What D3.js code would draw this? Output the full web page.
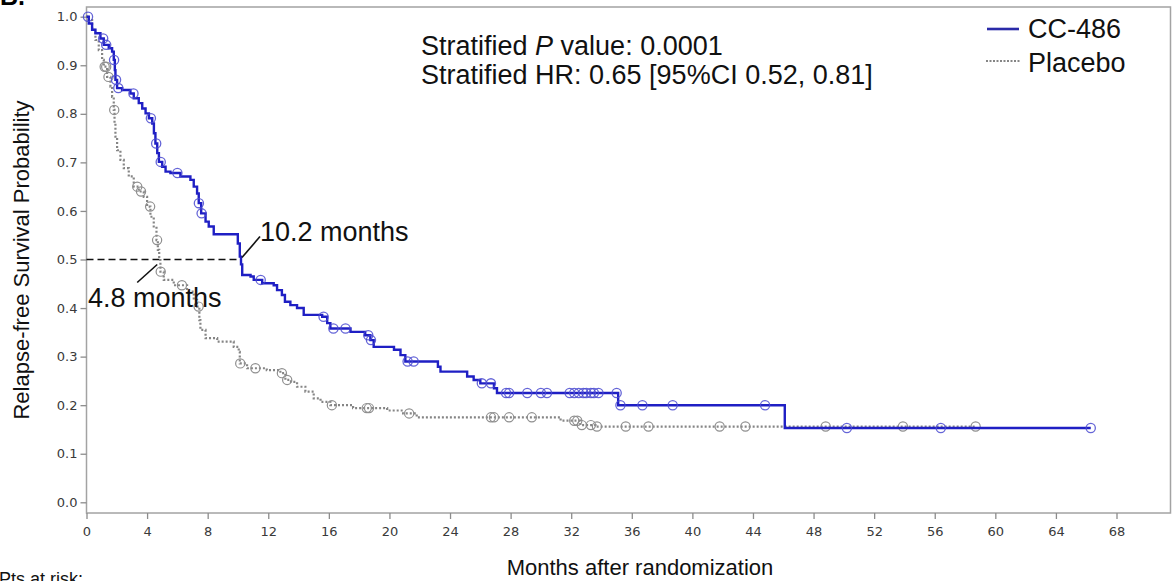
<!DOCTYPE html>
<html><head><meta charset="utf-8">
<script src="https://cdn.jsdelivr.net/npm/d3@7"></script>
<style>body{margin:0;background:#fff}svg{display:block}</style>
</head><body>
<svg id="chart" width="1172" height="581"></svg>
<script>
// ---------- data ----------
const xTickValues = [0,4,8,12,16,20,24,28,32,36,40,44,48,52,56,60,64,68];
const yTickValues = [0,0.1,0.2,0.3,0.4,0.5,0.6,0.7,0.8,0.9,1.0];

const seriesNames = ["CC-486", "Placebo"];

// CC-486 Kaplan-Meier steps: time (months) of drop, survival after drop
const ccTimes = [0.15,0.37,0.59,0.92,1.14,1.47,1.69,1.8,1.87,1.91,2.02,2.35,2.9,3.12,3.45,3.68,3.9,4.12,4.34,4.45,4.55,4.67,4.78,5.0,5.22,5.54,6.2,6.86,7.08,7.3,7.41,7.57,7.86,8.07,8.4,9.99,10.12,10.2,10.28,10.83,11.04,11.6,12.36,12.58,12.9,13.1,13.46,13.9,14.34,15.56,15.89,16.1,17.43,18.4,18.74,18.96,20.3,20.73,21.05,23.2,23.37,25.13,25.56,26.0,26.9,27.1,35.1,46.1];
const ccSurv  = [0.986,0.973,0.966,0.955,0.942,0.935,0.928,0.911,0.89,0.87,0.853,0.849,0.842,0.832,0.822,0.811,0.801,0.791,0.78,0.76,0.739,0.719,0.701,0.691,0.681,0.678,0.671,0.664,0.65,0.636,0.616,0.595,0.578,0.568,0.552,0.533,0.506,0.49,0.468,0.465,0.458,0.451,0.447,0.437,0.427,0.413,0.406,0.40,0.386,0.382,0.369,0.358,0.351,0.344,0.334,0.32,0.314,0.303,0.29,0.279,0.269,0.259,0.252,0.245,0.235,0.225,0.20,0.153];
const ccEnd = 66.3;
const ccCensor = [0.1,1.1,1.3,1.82,1.95,2.1,3.1,4.25,4.6,4.9,6.0,7.42,7.6,11.5,15.65,16.3,17.1,18.6,18.78,21.2,21.6,26.1,26.7,27.7,27.9,29.1,30.0,30.4,31.9,32.2,32.5,32.8,33.0,33.3,33.5,33.8,35.0,35.25,36.7,38.7,44.8,50.2,56.4,66.3];

// Placebo Kaplan-Meier steps
const pbTimes = [0.15,0.37,0.59,0.81,1.03,1.14,1.36,1.58,1.69,1.8,1.85,1.91,2.02,2.24,2.46,2.79,3.12,3.45,3.78,4.0,4.22,4.44,4.62,4.71,4.8,4.88,5.1,5.76,6.64,7.08,7.3,7.45,7.52,7.86,8.63,9.72,10.05,10.12,10.6,11.9,12.8,13.13,13.5,13.9,14.45,15.0,15.45,16.1,17.6,19.85,20.9,21.8,31.3,32.6,33.6];
const pbSurv  = [0.993,0.973,0.952,0.931,0.911,0.897,0.876,0.856,0.835,0.808,0.78,0.753,0.725,0.705,0.688,0.671,0.65,0.64,0.629,0.609,0.588,0.568,0.54,0.52,0.499,0.475,0.458,0.447,0.434,0.417,0.403,0.375,0.355,0.338,0.331,0.32,0.31,0.286,0.276,0.272,0.266,0.252,0.248,0.238,0.228,0.214,0.207,0.20,0.194,0.189,0.183,0.175,0.168,0.159,0.156];
const pbEnd = 58.7;
const pbCensor = [1.2,1.3,1.45,1.83,3.35,3.6,4.2,4.66,4.9,6.3,7.4,10.15,11.15,12.9,13.25,16.2,18.5,18.65,21.3,26.7,26.9,27.9,29.4,32.2,32.4,32.7,33.3,33.7,35.6,37.1,41.8,43.5,48.8,53.9,58.7];

const medianCC = 10.2;
const medianPbo = 4.8;
const medianLevel = 0.5;

const statLines = ["Stratified ", "P", " value: 0.0001"];
const statLine2 = "Stratified HR: 0.65 [95%CI 0.52, 0.81]";

// ---------- drawing ----------
const svg = d3.select("#chart");
const blue = "#1f1fc4";
const gray = "#858585";
const x = d3.scaleLinear().domain([0, 68]).range([86.5, 1116.5]);
const y = d3.scaleLinear().domain([0, 1]).range([502.3, 16.7]);

// panel label (cut at top)
svg.append("text").attr("x", 0).attr("y", 5)
  .style("font", "bold 25px 'Liberation Sans', Arial, sans-serif").text("B.");

// frame
svg.append("rect").attr("x", 86.5).attr("y", 7).attr("width", 1170.5 - 86.5).attr("height", 513 - 7)
  .attr("fill", "none").attr("stroke", "#a3a3a3").attr("stroke-width", 1.5);

// axes
const yAxis = svg.append("g").attr("transform", "translate(86.5,0)")
  .call(d3.axisLeft(y).tickValues(yTickValues).tickFormat(d3.format(".1f")).tickSize(6).tickPadding(3));
const xAxis = svg.append("g").attr("transform", "translate(0,513)")
  .call(d3.axisBottom(x).tickValues(xTickValues).tickFormat(d3.format("d")).tickSize(6).tickPadding(8));
[yAxis, xAxis].forEach(g => {
  g.select(".domain").remove();
  g.selectAll(".tick line").attr("stroke", "#8c8c8c").attr("stroke-width", 1.3);
  g.selectAll(".tick text").attr("fill", "#3a3a3a")
    .style("font-family", "'DejaVu Sans', Verdana, sans-serif").style("font-size", "13px");
});

// axis titles
svg.append("text").attr("x", 640).attr("y", 575).attr("text-anchor", "middle")
  .style("font", "22px 'Liberation Sans', Arial, sans-serif").attr("fill", "#111")
  .text("Months after randomization");
svg.append("text").attr("transform", "translate(29,260) rotate(-90)").attr("text-anchor", "middle")
  .style("font", "22px 'Liberation Sans', Arial, sans-serif").attr("fill", "#111")
  .text("Relapse-free Survival Probability");

svg.append("text").attr("x", -1).attr("y", 585)
  .style("font", "18px 'Liberation Sans', Arial, sans-serif").attr("fill", "#111")
  .text("Pts at risk:");

// step builders
function stepPoints(times, surv, end) {
  const pts = [[0, 1]];
  times.forEach((t, i) => pts.push([t, surv[i]]));
  pts.push([end, surv[surv.length - 1]]);
  return pts;
}
function survAt(times, surv, t) {
  const i = d3.bisectRight(times, t);
  return i === 0 ? 1 : surv[i - 1];
}
const line = d3.line().x(d => x(d[0])).y(d => y(d[1])).curve(d3.curveStepAfter);

// median dashed line
svg.append("line").attr("x1", x(0)).attr("x2", x(medianCC)).attr("y1", y(medianLevel)).attr("y2", y(medianLevel))
  .attr("stroke", "#111").attr("stroke-width", 1.6).attr("stroke-dasharray", "7,4");

// placebo
svg.append("path").datum(stepPoints(pbTimes, pbSurv, pbEnd)).attr("d", line)
  .attr("fill", "none").attr("stroke", gray).attr("stroke-width", 2.2).attr("stroke-dasharray", "2,2");
svg.append("g").selectAll("circle").data(pbCensor).join("circle")
  .attr("cx", d => x(d)).attr("cy", d => y(survAt(pbTimes, pbSurv, d))).attr("r", 4.6)
  .attr("fill", "none").attr("stroke", "#8f8f8f").attr("stroke-width", 1.2);

// CC-486
svg.append("path").datum(stepPoints(ccTimes, ccSurv, ccEnd)).attr("d", line)
  .attr("fill", "none").attr("stroke", blue).attr("stroke-width", 2.4);
svg.append("g").selectAll("circle").data(ccCensor).join("circle")
  .attr("cx", d => x(d)).attr("cy", d => y(survAt(ccTimes, ccSurv, d))).attr("r", 4.6)
  .attr("fill", "none").attr("stroke", "#4a4ad0").attr("stroke-opacity", 0.85).attr("stroke-width", 1.3);

// median annotations
const mx1 = x(medianCC), my = y(medianLevel);
svg.append("line").attr("x1", mx1 + 1).attr("y1", my - 2).attr("x2", mx1 + 19).attr("y2", my - 23)
  .attr("stroke", "#111").attr("stroke-width", 1.6);
svg.append("text").attr("x", mx1 + 19).attr("y", my - 19)
  .style("font", "27px 'Liberation Sans', Arial, sans-serif").attr("fill", "#111").text(medianCC + " months");
const mx2 = x(medianPbo);
svg.append("line").attr("x1", mx2 - 2).attr("y1", my + 5).attr("x2", mx2 - 22).attr("y2", my + 23)
  .attr("stroke", "#111").attr("stroke-width", 1.6);
svg.append("text").attr("x", x(0) + 1.5).attr("y", my + 47)
  .style("font", "27px 'Liberation Sans', Arial, sans-serif").attr("fill", "#111").text(medianPbo + " months");

// stats text
const st = svg.append("text").attr("x", 421).attr("y", 55)
  .style("font", "27px 'Liberation Sans', Arial, sans-serif").attr("fill", "#111");
st.append("tspan").text(statLines[0]);
st.append("tspan").style("font-style", "italic").text(statLines[1]);
st.append("tspan").text(statLines[2]);
svg.append("text").attr("x", 421).attr("y", 84)
  .style("font", "27px 'Liberation Sans', Arial, sans-serif").attr("fill", "#111").text(statLine2);

// legend
const lg = svg.append("g");
lg.append("line").attr("x1", 987).attr("x2", 1019).attr("y1", 29).attr("y2", 29)
  .attr("stroke", "#2a2aa8").attr("stroke-width", 2.6);
lg.append("text").attr("x", 1028).attr("y", 38)
  .style("font", "27px 'Liberation Sans', Arial, sans-serif").attr("fill", "#111").text(seriesNames[0]);
lg.append("line").attr("x1", 986).attr("x2", 1020).attr("y1", 61).attr("y2", 61)
  .attr("stroke", gray).attr("stroke-width", 2).attr("stroke-dasharray", "2,1.5");
lg.append("text").attr("x", 1028).attr("y", 72)
  .style("font", "27px 'Liberation Sans', Arial, sans-serif").attr("fill", "#111").text(seriesNames[1]);
</script>
</body></html>
